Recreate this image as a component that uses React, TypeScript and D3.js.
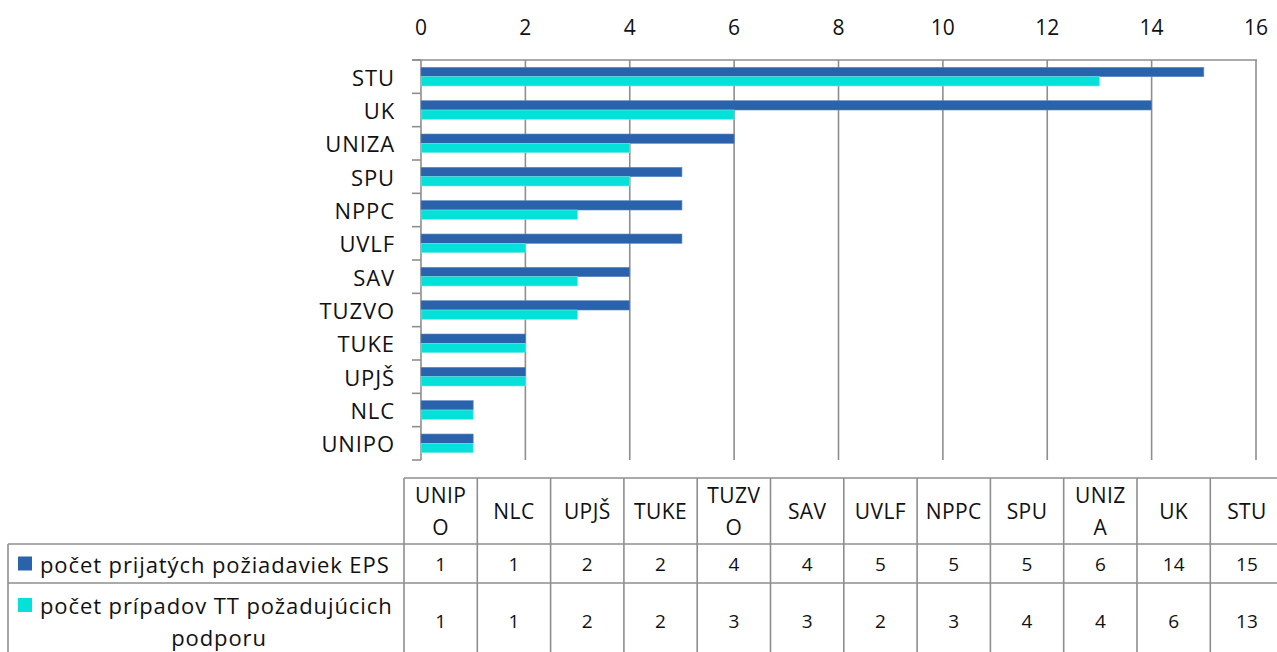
import * as d3 from 'd3'

// table order (left to right); the chart shows it reversed, top = STU
const categories = ['UNIPO', 'NLC', 'UPJŠ', 'TUKE', 'TUZVO', 'SAV', 'UVLF', 'NPPC', 'SPU', 'UNIZA', 'UK', 'STU']
const epsValues = [1, 1, 2, 2, 4, 4, 5, 5, 5, 6, 14, 15]
const ttValues = [1, 1, 2, 2, 3, 3, 2, 3, 4, 4, 6, 13]
const xTicks = [0, 2, 4, 6, 8, 10, 12, 14, 16]
const seriesNames = ['počet prijatých požiadaviek EPS', 'počet prípadov TT požadujúcich podporu']

const W = 1277
const H = 652
const FONT = '"Open Sans", "Noto Sans", sans-serif'
const DARK = '#2a62ab'
const CYAN = '#05e0d8'
const GRID = '#8e8e8e'
const TEXT = '#111'
const LS = 0.9 // letter spacing to approximate the wider original face

// split long header labels the way the table cells wrap them
const wrapLabel = (s: string) => (s.length > 4 ? [s.slice(0, 4), s.slice(4)] : [s])

export default function App() {
  const plot = { left: 421, right: 1256, top: 60, bottom: 460 }

  const x = d3.scaleLinear().domain([0, 16]).range([plot.left, plot.right])
  const y = d3.scaleBand<string>()
    .domain([...categories].reverse())
    .range([plot.top, plot.bottom])
  const sub = d3.scaleBand<string>()
    .domain(['eps', 'tt'])
    .range([0, y.bandwidth()])
    .paddingInner(0)
    .paddingOuter(0.79)

  // data table geometry
  const tbl = { left: 404, colW: 73.3, top: 478, hdrBottom: 544, row1Bottom: 583, bottom: 656 }
  const col = d3.scaleBand<string>()
    .domain(categories)
    .range([tbl.left, tbl.left + tbl.colW * categories.length])

  const rows = [
    { name: seriesNames[0], values: epsValues, color: DARK, y0: tbl.hdrBottom, y1: tbl.row1Bottom },
    { name: seriesNames[1], values: ttValues, color: CYAN, y0: tbl.row1Bottom, y1: tbl.bottom }
  ]

  return (
    <svg width={W} height={H} style={{ position: 'absolute', left: 0, top: 0, background: '#fff' }}
      fontFamily={FONT}>
      {/* grid lines */}
      {xTicks.map(t => (
        <line key={'g' + t} x1={x(t)} x2={x(t)} y1={plot.top} y2={plot.bottom}
          stroke={GRID} strokeWidth={1.6} />
      ))}
      <line x1={plot.left - 9} x2={plot.right + 1} y1={plot.top} y2={plot.top} stroke={GRID} strokeWidth={1.6} />

      {/* left axis ticks */}
      {d3.range(categories.length + 1).map(i => {
        const yy = plot.top + i * y.step()
        return <line key={'t' + i} x1={plot.left - 9} x2={plot.left} y1={yy} y2={yy} stroke={GRID} strokeWidth={1.6} />
      })}

      {/* top tick labels */}
      {xTicks.map(t => (
        <text key={'l' + t} x={x(t)} y={27} textAnchor="middle" dominantBaseline="central"
          fontSize={21} fill={TEXT}>{t}</text>
      ))}

      {/* bars */}
      {categories.map((c, i) => (
        <g key={'b' + c} transform={`translate(0,${y(c)})`}>
          <rect x={x(0)} y={sub('eps')} width={x(epsValues[i]) - x(0)} height={sub.bandwidth()}
            fill={DARK} stroke="#5b86c4" strokeWidth={0.6} />
          <rect x={x(0)} y={sub('tt')} width={x(ttValues[i]) - x(0)} height={sub.bandwidth()}
            fill={CYAN} stroke="#6ee9e4" strokeWidth={0.6} />
        </g>
      ))}

      {/* category labels */}
      {categories.map(c => (
        <text key={'c' + c} x={395} y={(y(c) ?? 0) + y.bandwidth() / 2} textAnchor="end"
          dominantBaseline="central" fontSize={22} letterSpacing={LS} fill={TEXT}>{c}</text>
      ))}

      {/* data table */}
      <g stroke={GRID} strokeWidth={1.6} fill="none">
        <line x1={tbl.left} x2={W} y1={tbl.top} y2={tbl.top} />
        <line x1={8} x2={W} y1={tbl.hdrBottom} y2={tbl.hdrBottom} />
        <line x1={8} x2={W} y1={tbl.row1Bottom} y2={tbl.row1Bottom} />
        <line x1={8} x2={8} y1={tbl.hdrBottom} y2={H} />
        {d3.range(categories.length + 1).map(i => {
          const xx = tbl.left + i * col.step()
          return <line key={'v' + i} x1={xx} x2={xx} y1={tbl.top} y2={H} />
        })}
      </g>

      {categories.map(c => {
        const lines = wrapLabel(c)
        const cx = (col(c) ?? 0) + col.bandwidth() / 2
        const cy = (tbl.top + tbl.hdrBottom) / 2
        return (
          <text key={'h' + c} x={cx} textAnchor="middle" fontSize={21} letterSpacing={0.4} fill={TEXT}>
            {lines.map((ln, k) => (
              <tspan key={k} x={cx} y={cy + (k - (lines.length - 1) / 2) * 32}
                dominantBaseline="central">{ln}</tspan>
            ))}
          </text>
        )
      })}

      {rows.map((r, ri) => {
        const cy = (r.y0 + r.y1) / 2
        return (
          <g key={'r' + ri}>
            {ri === 0 ? (
              <>
                <rect x={18} y={cy - 7} width={14} height={14} fill={r.color} />
                <text x={40} y={cy} dominantBaseline="central" fontSize={22} letterSpacing={LS} fill={TEXT}>{r.name}</text>
              </>
            ) : (
              <>
                <rect x={18} y={r.y0 + 15} width={14} height={14} fill={r.color} />
                <text x={40} y={r.y0 + 22} dominantBaseline="central" fontSize={22} letterSpacing={LS} fill={TEXT}>
                  {r.name.split(' ').slice(0, 4).join(' ')}
                </text>
                <text x={219} y={r.y0 + 54} textAnchor="middle" dominantBaseline="central" fontSize={22} letterSpacing={LS} fill={TEXT}>
                  {r.name.split(' ').slice(4).join(' ')}
                </text>
              </>
            )}
            {r.values.map((v, i) => (
              <text key={'v' + i} x={(col(categories[i]) ?? 0) + col.bandwidth() / 2} y={ri === 0 ? cy : r.y0 + 38}
                textAnchor="middle" dominantBaseline="central" fontSize={19} fill={TEXT}>{v}</text>
            ))}
          </g>
        )
      })}
    </svg>
  )
}
